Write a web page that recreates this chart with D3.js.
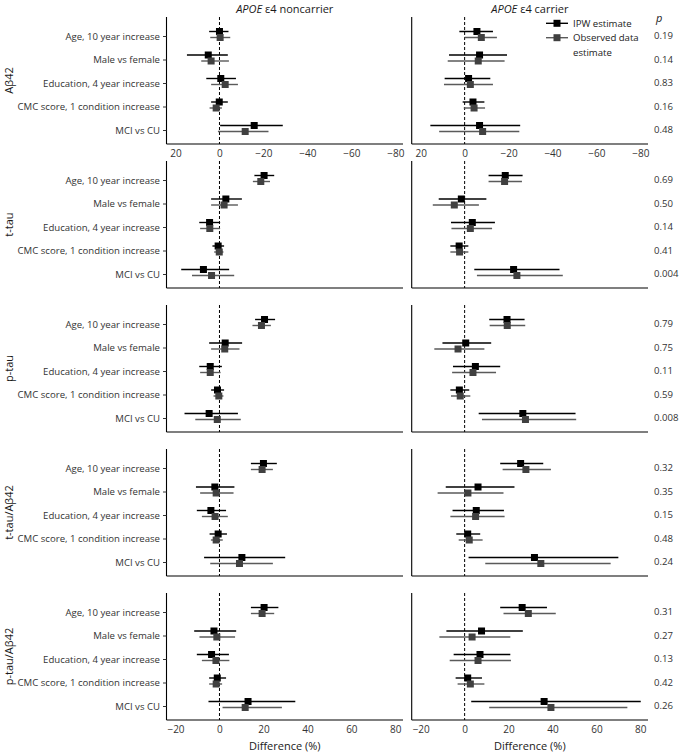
<!DOCTYPE html>
<html><head><meta charset="utf-8">
<script src="https://cdn.jsdelivr.net/npm/d3@7"></script>
<style>body{margin:0;background:#fff}svg{display:block;font-family:"Open Sans",sans-serif}</style>
</head><body><svg id="c" width="680" height="753"></svg>
<script>
const outcomes = ["Aβ42", "t-tau", "p-tau", "t-tau/Aβ42", "p-tau/Aβ42"];
const categories = ["Age, 10 year increase", "Male vs female", "Education, 4 year increase", "CMC score, 1 condition increase", "MCI vs CU"];
const groups = ["noncarrier", "carrier"];
const xTicks = [-20, 0, 20, 40, 60, 80];

// rows = outcomes, columns = categories
const ipwNonEst = [[0.0, 5.1, -0.6, 0.1, -15.8],[20.3, 2.9, -4.5, -0.6, -7.3],[20.5, 2.6, -4.2, -0.9, -4.7],[20.0, -2.1, -3.9, -0.6, 10.2],[20.3, -2.5, -3.6, -1.0, 13.0]];
const ipwNonLo  = [[4.7, 14.8, 6.0, 3.8, -0.3],[15.9, -3.8, -9.2, -3.2, -17.4],[16.2, -4.7, -9.2, -3.8, -15.9],[14.3, -10.7, -10.3, -4.5, -7.0],[14.3, -11.5, -10.3, -4.7, -5.0]];
const ipwNonHi  = [[-4.1, -3.8, -7.5, -3.8, -28.8],[24.9, 10.2, 0.3, 2.1, 4.4],[25.3, 10.3, 1.1, 2.1, 8.4],[26.1, 6.8, 3.0, 3.4, 29.9],[26.8, 7.6, 4.3, 3.0, 34.5]];
const obsNonEst = [[-0.3, 3.8, -2.6, 1.5, -11.7],[18.8, 2.1, -4.4, -0.1, -3.6],[19.1, 2.4, -4.2, -0.3, -1.0],[19.4, -1.5, -2.0, -1.5, 9.1],[19.4, -1.2, -1.6, -1.5, 11.7]];
const obsNonLo  = [[4.2, 8.3, 3.8, 4.5, 0.7],[15.2, -3.8, -8.8, -2.4, -12.5],[15.0, -3.8, -8.8, -2.7, -11.0],[14.3, -8.8, -8.0, -3.9, -4.2],[14.3, -9.1, -8.0, -4.7, 1.4]];
const obsNonHi  = [[-4.9, -4.3, -8.4, -1.1, -22.3],[23.0, 8.4, 0.3, 1.8, 6.7],[23.4, 9.1, 0.5, 1.8, 9.7],[24.3, 6.4, 3.8, 1.5, 24.3],[24.9, 7.1, 4.5, 1.2, 28.4]];

const ipwCarEst = [[-5.6, -6.8, -1.8, -3.8, -6.8],[18.5, -1.5, 3.5, -2.5, 22.3],[19.3, 0.5, 4.9, -2.4, 26.5],[25.5, 6.1, 5.3, 1.4, 31.8],[26.2, 7.7, 7.0, 1.4, 36.2]];
const ipwCarLo  = [[2.4, 7.1, 9.1, 0.9, 15.6],[10.9, -11.8, -6.2, -6.5, 4.4],[11.2, -10.1, -5.3, -6.5, 6.4],[16.2, -8.6, -5.5, -3.8, 1.8],[16.2, -8.3, -5.0, -4.1, 3.0]];
const ipwCarHi  = [[-12.9, -19.3, -11.7, -9.0, -25.3],[26.4, 9.9, 13.8, 1.7, 43.2],[27.3, 12.1, 16.2, 2.1, 50.5],[35.8, 22.7, 17.9, 7.1, 70.0],[37.5, 26.5, 20.8, 7.9, 80.2]];
const obsCarEst = [[-7.6, -6.2, -2.6, -4.3, -8.2],[18.2, -4.7, 2.6, -2.3, 23.8],[19.4, -3.0, 3.8, -2.0, 27.7],[27.9, 1.5, 5.0, 2.1, 34.7],[29.0, 3.4, 6.1, 2.6, 39.3]];
const obsCarLo  = [[0.0, 7.7, 9.4, 0.4, 11.6],[10.9, -14.5, -6.0, -6.5, 5.6],[11.4, -13.8, -5.7, -6.2, 7.9],[17.3, -12.3, -6.5, -2.7, 9.4],[17.7, -11.5, -6.8, -3.2, 11.2]];
const obsCarHi  = [[-14.7, -18.2, -12.9, -9.3, -24.9],[26.1, 6.5, 12.5, 1.7, 44.7],[27.6, 9.0, 14.3, 2.6, 50.8],[39.3, 17.7, 18.2, 8.2, 66.5],[41.5, 20.8, 21.1, 9.0, 74.1]];

const pValues = [["0.19","0.14","0.83","0.16","0.48"],["0.69","0.50","0.14","0.41","0.004"],["0.79","0.75","0.11","0.59","0.008"],["0.32","0.35","0.15","0.48","0.24"],["0.31","0.27","0.13","0.42","0.26"]];

const series = [
  {name: "IPW estimate", est: [ipwNonEst, ipwCarEst], lo: [ipwNonLo, ipwCarLo], hi: [ipwNonHi, ipwCarHi], line: "#000", fill: "#000", dy: -4.5},
  {name: "Observed data estimate", est: [obsNonEst, obsCarEst], lo: [obsNonLo, obsCarLo], hi: [obsNonHi, obsCarHi], line: "#5a5a5a", fill: "#404040", dy: 1.5}
];

const svg = d3.select("#c");
const fs = 9.6;
const panelX = [[166.5, 403], [411.7, 648]];
const domainN = [-24.1, 83.5];
const rowTop0 = 17, rowStep = 144, rowH = 127;

// column headers
const headers = ["noncarrier", "carrier"];
headers.forEach((h, gi) => {
  const t = svg.append("text").attr("x", (panelX[gi][0] + panelX[gi][1]) / 2).attr("y", 13)
    .attr("text-anchor", "middle").attr("font-size", 11).attr("fill", "#1a1a1a");
  t.append("tspan").attr("font-style", "italic").text("APOE");
  t.append("tspan").text(" ε4 " + h);
});

outcomes.forEach((oc, ri) => {
  const top = rowTop0 + ri * rowStep, bottom = top + rowH;
  const reversed = ri === 0;
  const y = d3.scalePoint().domain(categories).range([top + 19, bottom - 14]);
  // row label
  svg.append("text").attr("transform", `translate(12.5,${(top + bottom) / 2}) rotate(-90)`)
    .attr("text-anchor", "middle").attr("font-size", 11).attr("fill", "#1a1a1a").text(oc);

  groups.forEach((g, gi) => {
    const [x0, x1] = panelX[gi];
    const x = d3.scaleLinear().domain(reversed ? [-domainN[0], -domainN[1]] : domainN).range([x0, x1]);
    const gp = svg.append("g");
    // zero line
    gp.append("line").attr("x1", x(0)).attr("x2", x(0)).attr("y1", top).attr("y2", bottom)
      .attr("stroke", "#000").attr("stroke-width", 1).attr("stroke-dasharray", "3,2");
    // bottom axis
    const ticks = reversed ? xTicks.map(d => -d) : xTicks;
    const axis = d3.axisBottom(x).tickValues(ticks).tickSize(0).tickPadding(6).tickFormat(d3.format("d"));
    const ax = gp.append("g").attr("transform", `translate(0,${bottom})`).call(axis);
    ax.select(".domain").attr("stroke", "#000").attr("stroke-width", 1.1).attr("d", `M${x0},0H${x1}`);
    ax.selectAll("text").attr("font-size", 10).attr("fill", "#333").attr("font-family", "Open Sans");
    if (!(reversed || ri === outcomes.length - 1)) ax.selectAll(".tick").remove();
    // left axis
    const yAxis = d3.axisLeft(y).tickSize(gi === 0 ? 3.5 : 0).tickPadding(3);
    const ay = gp.append("g").attr("transform", `translate(${x0},0)`).call(yAxis);
    ay.select(".domain").attr("stroke", "#000").attr("stroke-width", 1.1).attr("d", `M0,${top}V${bottom}`);
    ay.selectAll("text").attr("font-size", fs).attr("fill", "#333").attr("font-family", "Open Sans");
    ay.selectAll(".tick line").attr("stroke", "#333");
    if (gi === 1) ay.selectAll(".tick text").remove();

    // data
    series.forEach(s => {
      const est = s.est[gi][ri], lo = s.lo[gi][ri], hi = s.hi[gi][ri];
      const data = categories.map((c, i) => ({c, e: est[i], lo: lo[i], hi: hi[i]}));
      gp.selectAll(null).data(data).enter().append("line")
        .attr("x1", d => x(d.lo)).attr("x2", d => x(d.hi))
        .attr("y1", d => y(d.c) + s.dy).attr("y2", d => y(d.c) + s.dy)
        .attr("stroke", s.line).attr("stroke-width", 1.4);
      gp.selectAll(null).data(data).enter().append("rect")
        .attr("x", d => x(d.e) - 3.5).attr("y", d => y(d.c) + s.dy - 3.5)
        .attr("width", 7).attr("height", 7).attr("fill", s.fill);
    });
  });
  // p-values
  categories.forEach((c, i) => {
    svg.append("text").attr("x", 654).attr("y", y(c)).attr("dy", "0.35em")
      .attr("font-size", fs).attr("fill", "#333").text(pValues[ri][i]);
  });
});

// p header
svg.append("text").attr("x", 656).attr("y", 22).attr("font-size", 11).attr("font-style", "italic").attr("fill", "#1a1a1a").text("p");

// x titles
panelX.forEach(([x0, x1]) => {
  svg.append("text").attr("x", (x0 + x1) / 2).attr("y", 750).attr("text-anchor", "middle")
    .attr("font-size", 11).attr("fill", "#1a1a1a").text("Difference (%)");
});

// legend
const lg = svg.append("g");
const legendY = [23.3, 37.7];
series.forEach((s, i) => {
  lg.append("line").attr("x1", 546).attr("x2", 568).attr("y1", legendY[i]).attr("y2", legendY[i]).attr("stroke", s.line).attr("stroke-width", 1.4);
  lg.append("rect").attr("x", 557 - 3.5).attr("y", legendY[i] - 3.5).attr("width", 7).attr("height", 7).attr("fill", s.fill);
});
lg.append("text").attr("x", 573).attr("y", legendY[0]).attr("dy", "0.35em").attr("font-size", fs).attr("fill", "#1a1a1a").text("IPW estimate");
lg.append("text").attr("x", 573).attr("y", legendY[1]).attr("dy", "0.35em").attr("font-size", fs).attr("fill", "#1a1a1a").text("Observed data");
lg.append("text").attr("x", 573).attr("y", 52.3).attr("dy", "0.35em").attr("font-size", fs).attr("fill", "#1a1a1a").text("estimate");
</script></body></html>
